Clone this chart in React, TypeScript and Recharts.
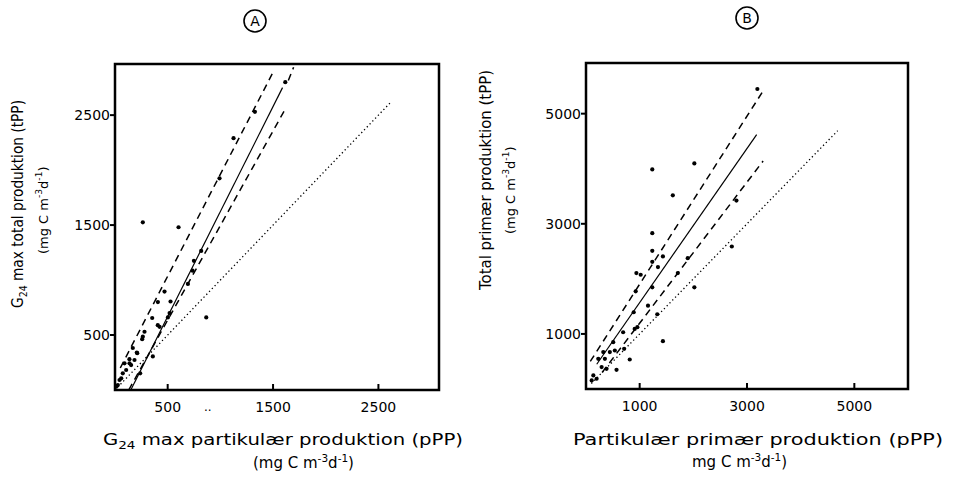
import React from 'react'
import { ScatterChart, Scatter, XAxis, YAxis, ReferenceLine, ReferenceArea } from 'recharts'

// Panel A: G24 max particulate vs total production
const aPPP = [1616, 1328, 1125, 992, 264, 603, 818, 749, 736, 692, 866, 470, 407, 527, 518, 502, 353, 423, 280, 264, 359, 211, 239, 406, 258, 207, 137, 90, 106, 59, 27, 153, 185, 74, 169, 138, 11, 43]
const aTPP = [2800, 2530, 2290, 1925, 1525, 1480, 1265, 1175, 1085, 965, 660, 895, 800, 805, 700, 660, 655, 575, 530, 485, 305, 335, 152, 590, 462, 340, 280, 243, 182, 106, 45, 227, 273, 152, 382, 243, 30, 91]
const aTicks = [500, 1500, 2500]

// Panel B: particulate vs total primary production
const bPPP = [3193, 2019, 1235, 1618, 2803, 1235, 1235, 1235, 1433, 1341, 2717, 1896, 1711, 939, 1019, 926, 1235, 2019, 1155, 889, 1328, 692, 957, 907, 1433, 711, 815, 507, 537, 444, 322, 229, 352, 291, 383, 569, 137, 106, 198]
const bTPP = [5448, 4096, 3987, 3517, 3421, 2829, 2509, 2310, 2407, 2214, 2588, 2376, 2105, 2105, 2075, 1774, 1846, 1846, 1513, 1394, 1357, 1031, 1122, 1091, 869, 729, 536, 851, 699, 670, 670, 548, 548, 398, 367, 349, 246, 156, 186]
const bTicks = [1000, 3000, 5000]

// regression (solid), confidence bands (dashed), 1:1 line (dotted)
const aSolid = [{ x: 150, y: 0 }, { x: 1590, y: 2750 }]
const aUpper = [{ x: 50, y: 200 }, { x: 1500, y: 2890 }]
const aLower = [{ x: 130, y: 0 }, { x: 1610, y: 2545 }]
const aExtra = [{ x: 1645, y: 2815 }, { x: 1695, y: 2935 }]
const aOneToOne = [{ x: 0, y: 0 }, { x: 2620, y: 2620 }]

const bSolid = [{ x: 200, y: 450 }, { x: 3180, y: 4620 }]
const bUpper = [{ x: 80, y: 500 }, { x: 3285, y: 5390 }]
const bLower = [{ x: 300, y: 300 }, { x: 3300, y: 4140 }]
const bOneToOne = [{ x: 100, y: 100 }, { x: 4690, y: 4690 }]

const zip = (xs: number[], ys: number[]) => xs.map((x, i) => ({ x, y: ys[i] }))

const FONT = '"DejaVu Sans", sans-serif'

const XTick = (props: any) => {
  const { x, y, payload } = props
  return (
    <g>
      <line x1={x} y1={y} x2={x} y2={y - 6} stroke="#000" strokeWidth={2} />
      <text x={x} y={y + 22} textAnchor="middle" fontSize={14} fontFamily={FONT} fill="#000">
        {payload.value}
      </text>
    </g>
  )
}

const YTick = (props: any) => {
  const { x, y, payload } = props
  return (
    <g>
      <line x1={x - 5} y1={y} x2={x} y2={y} stroke="#000" strokeWidth={2} />
      <text x={x - 5} y={y} dy="0.36em" textAnchor="end" fontSize={14} fontFamily={FONT} fill="#000">
        {payload.value}
      </text>
    </g>
  )
}

const Dot = (props: any) => <circle cx={props.cx} cy={props.cy} r={2.1} fill="#000" />

function Panel({ pts, ticks, xMax, yMax, lines, width, yAxisWidth, marginTop, marginRight, marginBottom }: any) {
  return (
    <ScatterChart
      width={width}
      height={482}
      margin={{ top: marginTop, right: marginRight, bottom: marginBottom, left: 0 }}
    >
      <XAxis
        type="number"
        dataKey="x"
        domain={[0, xMax]}
        ticks={ticks}
        axisLine={false}
        tickLine={false}
        tickSize={0}
        tickMargin={0}
        height={30}
        tick={<XTick />}
        allowDataOverflow
      />
      <YAxis
        type="number"
        dataKey="y"
        domain={[0, yMax]}
        ticks={ticks}
        axisLine={false}
        tickLine={false}
        tickSize={0}
        tickMargin={0}
        width={yAxisWidth}
        tick={<YTick />}
        allowDataOverflow
      />
      <ReferenceArea x1={0} x2={xMax} y1={0} y2={yMax} fill="none" fillOpacity={0} stroke="#000" strokeWidth={2.5} ifOverflow="visible" />
      {lines.map((l: any, i: number) => (
        <ReferenceLine
          key={i}
          segment={l.seg}
          stroke="#000"
          strokeWidth={l.w}
          strokeDasharray={l.dash}
          ifOverflow="visible"
        />
      ))}
      <Scatter data={pts} shape={<Dot />} isAnimationActive={false} />
    </ScatterChart>
  )
}

// unit text "(mg C m-3 d-1)" with superscripts
const Unit = ({ open = true }: { open?: boolean }) => (
  <>
    {open ? '(mg C m' : 'mg C m'}
    <tspan dy={-6} fontSize="0.7em">-3</tspan>
    <tspan dy={6}>d</tspan>
    <tspan dy={-6} fontSize="0.7em">-1</tspan>
    <tspan dy={6}>)</tspan>
  </>
)

export default function App() {
  const DASH = '7 5'
  const DOT = '1.3 2.7'
  const aLines = [
    { seg: aSolid, w: 1.2 },
    { seg: aUpper, w: 1.5, dash: DASH },
    { seg: aLower, w: 1.5, dash: DASH },
    { seg: aExtra, w: 1.5, dash: DASH },
    { seg: aOneToOne, w: 1.3, dash: DOT },
  ]
  const bLines = [
    { seg: bSolid, w: 1.2 },
    { seg: bUpper, w: 1.5, dash: DASH },
    { seg: bLower, w: 1.5, dash: DASH },
    { seg: bOneToOne, w: 1.3, dash: DOT },
  ]
  return (
    <div style={{ position: 'absolute', left: 0, top: 0, width: 956, height: 482, background: '#fff', overflow: 'hidden' }}>
      <div style={{ position: 'absolute', left: 0, top: 0 }}>
        <Panel
          pts={zip(aPPP, aTPP)}
          ticks={aTicks}
          xMax={3075}
          yMax={2965}
          lines={aLines}
          width={470}
          yAxisWidth={115}
          marginTop={64}
          marginRight={31}
          marginBottom={62}
        />
      </div>
      <div style={{ position: 'absolute', left: 470, top: 0 }}>
        <Panel
          pts={zip(bPPP, bTPP)}
          ticks={bTicks}
          xMax={6000}
          yMax={5920}
          lines={bLines}
          width={486}
          yAxisWidth={116}
          marginTop={63}
          marginRight={48}
          marginBottom={63}
        />
      </div>
      <svg width={956} height={482} style={{ position: 'absolute', left: 0, top: 0, pointerEvents: 'none' }} fontFamily={FONT} fill="#000">
        {/* panel labels */}
        <circle cx={255} cy={21} r={11} fill="none" stroke="#000" strokeWidth={1.6} />
        <text x={255} y={26} textAnchor="middle" fontSize={14}>A</text>
        <circle cx={747} cy={18} r={11} fill="none" stroke="#000" strokeWidth={1.6} />
        <text x={747} y={23} textAnchor="middle" fontSize={14}>B</text>

        {/* panel A axis titles */}
        <text transform="translate(23,308) rotate(-90)" fontSize={16} textLength={208} lengthAdjust="spacingAndGlyphs">
          G<tspan dy={4} fontSize={11}>24</tspan>
          <tspan dy={-4}> max total produktion (tPP)</tspan>
        </text>
        <text transform="translate(48,254) rotate(-90)" fontSize={13}>
          <Unit />
        </text>
        <text x={103} y={445} fontSize={16} textLength={360} lengthAdjust="spacingAndGlyphs">
          G<tspan dy={4} fontSize={11}>24</tspan>
          <tspan dy={-4}> max partikulær  produktion (pPP)</tspan>
        </text>
        <text x={253} y={468} fontSize={15}>
          <Unit />
        </text>
        <text x={204} y={411} fontSize={12}>..</text>

        {/* panel B axis titles */}
        <text transform="translate(491,290) rotate(-90)" fontSize={16} textLength={220} lengthAdjust="spacingAndGlyphs">
          Total primær produktion (tPP)
        </text>
        <text transform="translate(515,234) rotate(-90)" fontSize={13}>
          <Unit />
        </text>
        <text x={573} y={445} fontSize={16} textLength={370} lengthAdjust="spacingAndGlyphs">
          Partikulær  primær  produktion (pPP)
        </text>
        <text x={692} y={467} fontSize={15}>
          <Unit open={false} />
        </text>
      </svg>
    </div>
  )
}
